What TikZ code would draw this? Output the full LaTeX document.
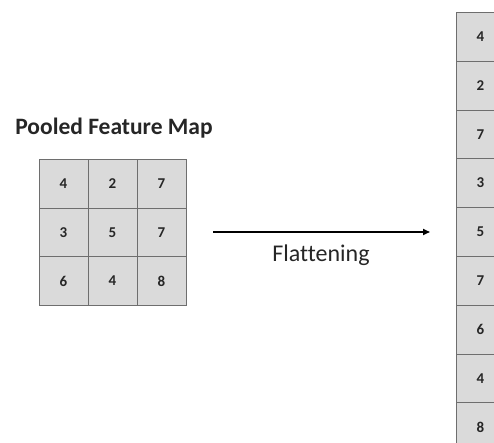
\documentclass[tikz,border=0pt]{standalone}
\usepackage{fontspec}
\setmainfont[Ligatures=NoCommon]{Carlito}
\usetikzlibrary{arrows.meta}
\definecolor{cellfill}{HTML}{DADADA}
\definecolor{cellline}{HTML}{6E6E6E}
\tikzset{
  cell/.style={draw=cellline, line width=0.7pt, fill=cellfill, minimum width=49pt,
    minimum height=48.8pt, inner sep=0pt, font=\fontsize{15}{15}\selectfont\bfseries, text=black!85},
}
\begin{document}
\begin{tikzpicture}[x=1pt,y=-1pt]
\useasboundingbox (0,0) rectangle (494,443);
\clip (0,0) rectangle (494,443);
% title
\node[font=\fontsize{23.5}{23.5}\selectfont\bfseries, text=black!85] (title) at (114,128) {Pooled Feature Map};
% 3x3 pooled map
\foreach \v [count=\i from 0] in {4,2,7,3,5,7,6,4,8}{
  \pgfmathtruncatemacro{\r}{int(\i/3)}
  \pgfmathtruncatemacro{\c}{mod(\i,3)}
  \node[cell] (m\i) at ({63.5+49*\c},{183.5+48.8*\r}) {\v};
}
% flattened column
\foreach \v [count=\i from 0] in {4,2,7,3,5,7,6,4,8}{
  \node[cell] (f\i) at (480.5,{36.7+48.8*\i}) {\v};
}
% arrow
\coordinate (a0) at (213,232);
\coordinate (a1) at (430,232);
\draw[line width=1.6pt, -{Triangle[length=7pt,width=6pt]}] (a0) -- (a1);
\node[font=\fontsize{24}{24}\selectfont, text=black!85] (lab) at (321,255) {Flattening};
\end{tikzpicture}
\end{document}
